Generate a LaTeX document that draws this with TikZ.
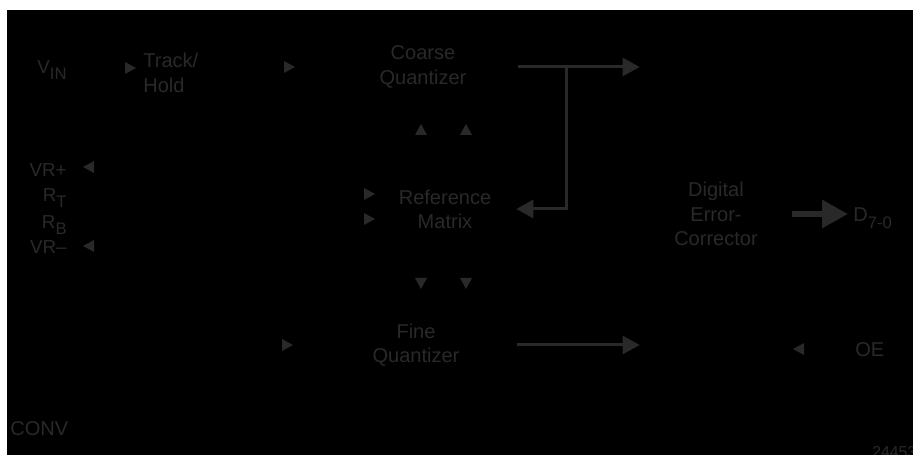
\documentclass[tikz,border=0pt]{standalone}
\usepackage{fontspec}
\setmainfont{Liberation Sans}
\usetikzlibrary{arrows.meta}
\definecolor{ink}{gray}{0.16}
\newcommand{\pinsub}[1]{\raisebox{-3.5pt}{\fontsize{9.5}{10}\selectfont #1}}
\tikzset{
  block/.style={inner sep=0pt, align=center, text=ink, font=\fontsize{11.4}{13.8}\selectfont},
  pinlabel/.style={inner sep=0pt, align=right, text=ink, font=\fontsize{10.7}{12}\selectfont},
  pinhead/.style={fill=ink},
  bus/.style={draw=ink, line width=0.06cm, -{Triangle[length=0.34cm,width=0.36cm]}},
  widebus/.style={draw=ink, line width=0.12cm, -{Triangle[length=0.52cm,width=0.54cm]}}
}
\begin{document}
\begin{tikzpicture}[x=0.02cm,y=-0.02cm]
\useasboundingbox (0,0) rectangle (913,455);
\fill[white] (0,0) rectangle (913,455);
\fill[black] (7,10) rectangle (913,455);

% blocks
\node[block, anchor=north west, align=left] (th) at (143,53) {Track/\\Hold};
\node[block, minimum width=3.8cm, minimum height=2.28cm] (coarse) at (423,67) {Coarse\\Quantizer};
\node[block, minimum width=2.84cm] (refmat) at (445,209) {Reference\\Matrix};
\node[block, minimum width=4.04cm, minimum height=2.24cm] (fine) at (416,345) {Fine\\Quantizer};
\node[block, minimum width=3.04cm] (dec) at (716,214) {Digital\\Error-\\Corrector};

% pins
\node[pinlabel, anchor=north east] (vin) at (67,60) {V\pinsub{IN}};
\node[pinlabel, anchor=north east] (vrp) at (67,163) {VR+};
\node[pinlabel, anchor=north east] (rt) at (67,188) {R\pinsub{T}};
\node[pinlabel, anchor=north east] (rb) at (67,215) {R\pinsub{B}};
\node[pinlabel, anchor=north east] (vrm) at (67,240) {VR–};
\node[block, anchor=north west] (conv) at (10,421) {CONV};
\node[block, anchor=north west] (oe) at (855,342) {OE};
\node[block, anchor=base west] (dout) at (853,222) {D\pinsub{7-0}};
\node[inner sep=0pt, text=ink, font=\fontsize{9}{10}\selectfont, anchor=north west] (fignum) at (872,446) {24453};

\fill[pinhead] (136,68) -- ++(-11,-6) -- ++(0,12) -- cycle
  (295,67) -- ++(-11,-6) -- ++(0,12) -- cycle
  (375,194) -- ++(-11,-6) -- ++(0,12) -- cycle
  (375,219) -- ++(-11,-6) -- ++(0,12) -- cycle
  (293,345) -- ++(-11,-6) -- ++(0,12) -- cycle
  (83,167) -- ++(11,-6) -- ++(0,12) -- cycle
  (83,246) -- ++(11,-6) -- ++(0,12) -- cycle
  (793,349) -- ++(11,-6) -- ++(0,12) -- cycle
  (421,124) -- ++(-6,11) -- ++(12,0) -- cycle
  (466,124) -- ++(-6,11) -- ++(12,0) -- cycle
  (421,289) -- ++(-6,-11) -- ++(12,0) -- cycle
  (466,289) -- ++(-6,-11) -- ++(12,0) -- cycle
;

\coordinate (tap) at (566,67);
\draw[bus] (coarse.east) -- (coarse.east -| dec.west);
\draw[bus] (tap) |- (refmat.east);
\draw[bus] (fine.east) -- (fine.east -| dec.west);
\draw[widebus, shorten >=0.1cm] (dec.east) -- (dec.east -| dout.west);

\end{tikzpicture}
\end{document}
